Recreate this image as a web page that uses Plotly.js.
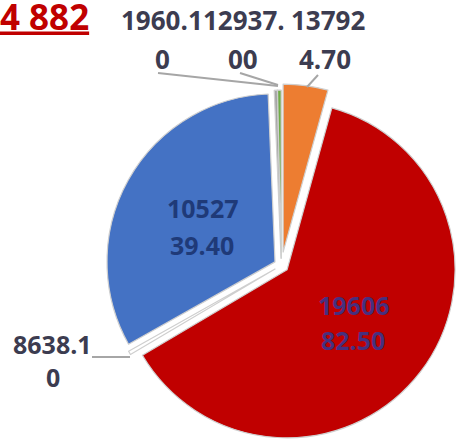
<!DOCTYPE html>
<html>
<head>
<meta charset="utf-8">
<script src="https://cdn.plot.ly/plotly-3.0.1.min.js"></script>
<style>
  html, body { margin: 0; padding: 0; overflow: hidden; background: #ffffff; }
  #chart { width: 480px; height: 460px; }
</style>
</head>
<body>
<div id="chart"></div>
<script>
// ---- data (slice shares, clockwise from 12 o'clock) ----
var sliceNames  = ['Orange', 'Red', 'White', 'Blue', 'Gray', 'Green'];
var sliceShares = [4.3, 62.2, 0.35, 32.5, 0.3, 0.35];
var sliceColors = ['#ed7d31', '#c00000', '#ffffff', '#4472c4', '#a5a5a5', '#70ad47'];
var slicePulls  = [0.08, 0.043, 0.043, 0.043, 0.043, 0.043];
var labelLine1  = ['13792', '19606', '8638.1', '10527', '1960.1', '12937.'];
var labelLine2  = ['4.70', '82.50', '0', '39.40', '0', '00'];
var titleText   = '4 882';

// ---- layout helpers ----
var W = 480, H = 460;
function px(x) { return x / W; }
function py(y) { return 1 - y / H; }

// label centres (pixels) for line 1 / line 2 of each slice label
var labelPos = [
  [[328, 20], [325, 59]],
  [[353, 305], [353, 340]],
  [[52, 343.5], [53, 377]],
  [[202, 207.5], [202, 245]],
  [[162, 20], [162, 59]],
  [[244, 20], [243, 59]]
];
var labelSizes  = [26, 25, 25, 25, 26, 26];
var labelColors = ['#3c3c50', '#46307f', '#3c3c50', '#1f3a78', '#3c3c50', '#3c3c50'];

var annotations = [];
for (var i = 0; i < labelLine1.length; i++) {
  [labelLine1[i], labelLine2[i]].forEach(function (t, k) {
    annotations.push({
      xref: 'paper', yref: 'paper',
      x: px(labelPos[i][k][0]), y: py(labelPos[i][k][1]),
      xanchor: 'center', yanchor: 'middle',
      text: '<b>' + t + '</b>', showarrow: false,
      font: { family: 'Open Sans, sans-serif', size: labelSizes[i], color: labelColors[i] }
    });
  });
}

// leader lines
var leaders = [
  [158, 73, 278, 86],
  [240, 73, 278, 85],
  [318, 75, 307, 87],
  [92, 357, 130, 357]
];
var shapes = leaders.map(function (l) {
  return {
    type: 'line', xref: 'paper', yref: 'paper',
    x0: px(l[0]), y0: py(l[1]), x1: px(l[2]), y1: py(l[3]),
    line: { color: '#a6a6a6', width: 2 }
  };
});

// pie domain so that the centre sits at (281.3, 265.4) with radius ~168
var cx = 281.3, cy = 265.4, half = 168 * 1.08;
var trace = {
  type: 'pie',
  labels: sliceNames,
  values: sliceShares,
  sort: false,
  direction: 'clockwise',
  rotation: 0,
  pull: slicePulls,
  textinfo: 'none',
  hoverinfo: 'label+value',
  showlegend: false,
  marker: { colors: sliceColors, line: { color: '#cfcfcf', width: 1.2 } },
  domain: {
    x: [px(cx - half), px(cx + half)],
    y: [py(cy + half), py(cy - half)]
  }
};

var layout = {
  width: W, height: H,
  margin: { l: 0, r: 0, t: 0, b: 0 },
  paper_bgcolor: '#ffffff',
  showlegend: false,
  title: {
    text: '<u><b>' + titleText + '</b></u>',
    x: 0, xanchor: 'left', xref: 'container',
    y: py(5), yanchor: 'top', yref: 'container',
    font: { family: 'Open Sans, sans-serif', size: 35, color: '#c00000' }
  },
  annotations: annotations,
  shapes: shapes
};

Plotly.newPlot('chart', [trace], layout, { displayModeBar: false, staticPlot: true });
</script>
</body>
</html>
